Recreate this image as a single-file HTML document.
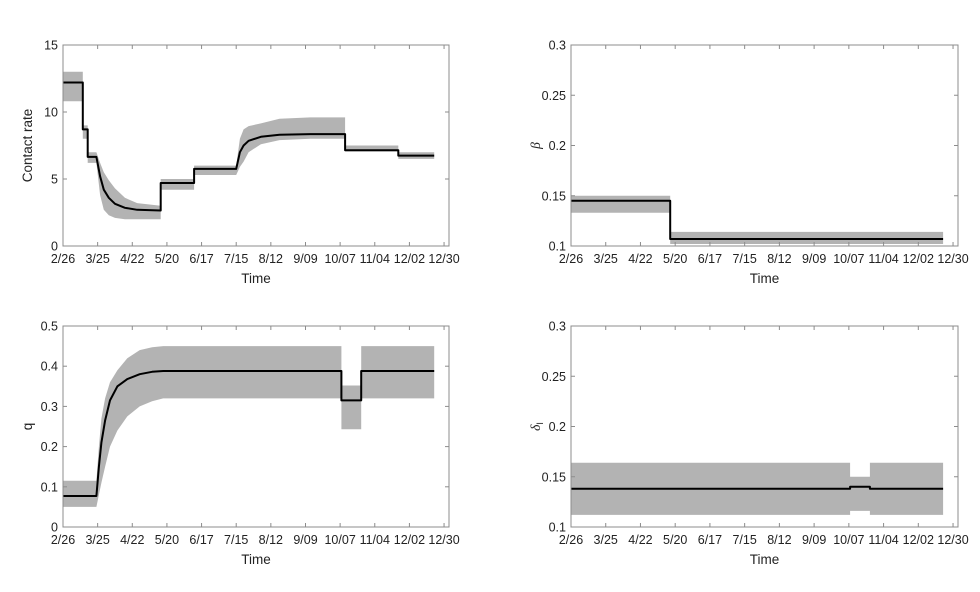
<!DOCTYPE html>
<html><head><meta charset="utf-8"><style>
body{margin:0;background:#fff;}
svg{display:block;font-family:"Liberation Sans",sans-serif;}
</style></head><body>
<svg id="fig" width="980" height="592" viewBox="0 0 980 592"></svg>
<script>
// x ticks (days since 2/26)
const tickDays=[0,28,56,84,112,140,168,196,224,252,280,308];
const tickLabels=["2/26","3/25","4/22","5/20","6/17","7/15","8/12","9/09","10/07","11/04","12/02","12/30"];
// Panel 1: contact rate
const crDays=[0,16,16,20,20,27,30,33,37,42,50,60,79,79,106,106,140,143,146,150,160,175,200,228,228,271,271,300];
const crMean=[12.2,12.2,8.7,8.7,6.65,6.65,5.2,4.2,3.6,3.15,2.85,2.7,2.65,4.7,4.7,5.75,5.75,7.0,7.5,7.85,8.15,8.3,8.35,8.35,7.15,7.15,6.75,6.75];
const crLo=[10.8,10.8,8.0,8.0,6.2,6.2,3.8,2.7,2.3,2.1,2.0,2.0,2.0,4.2,4.2,5.3,5.3,5.9,6.3,7.0,7.6,7.9,8.0,8.0,7.05,7.05,6.5,6.5];
const crHi=[13.0,13.0,9.0,9.0,7.0,7.0,6.2,5.5,4.9,4.3,3.6,3.2,3.0,5.0,5.0,6.0,6.0,8.0,8.7,8.95,9.15,9.5,9.6,9.6,7.5,7.5,7.0,7.0];
// Panel 2: beta
const bDays=[0,80,80,300];
const bMean=[0.145,0.145,0.107,0.107];
const bLo=[0.133,0.133,0.102,0.102];
const bHi=[0.150,0.150,0.114,0.114];
// Panel 3: q
const qDays=[0,27,29,31,34,38,44,52,62,72,81,225,225,241,241,300];
const qMean=[0.077,0.077,0.15,0.21,0.265,0.315,0.35,0.368,0.38,0.386,0.388,0.388,0.315,0.315,0.388,0.388];
const qLo=[0.05,0.05,0.08,0.11,0.15,0.2,0.24,0.275,0.3,0.313,0.32,0.32,0.243,0.243,0.32,0.32];
const qHi=[0.115,0.115,0.2,0.27,0.32,0.36,0.39,0.42,0.44,0.447,0.45,0.45,0.352,0.352,0.45,0.45];
// Panel 4: delta_I
const dDays=[0,225,225,241,241,300];
const dMean=[0.138,0.138,0.14,0.14,0.138,0.138];
const dLo=[0.112,0.112,0.116,0.116,0.112,0.112];
const dHi=[0.164,0.164,0.150,0.150,0.164,0.164];

const NS="http://www.w3.org/2000/svg";
const svg=document.getElementById('fig');
function mk(tag,attrs,parent){const e=document.createElementNS(NS,tag);for(const k in attrs)e.setAttribute(k,attrs[k]);(parent||svg).appendChild(e);return e;}

function panel(name,x0,y0,x1,y1,ymin,ymax,yticks,ylabelFmt,days,mean,lo,hi,ylab){
  const g=mk('g',{});
  
  
  const X=d=>x0+(d/312)*(x1-x0);
  const Y=v=>y1-(v-ymin)/(ymax-ymin)*(y1-y0);
  let p='';
  for(let i=0;i<days.length;i++)p+=(i?'L':'M')+X(days[i]).toFixed(1)+','+Y(hi[i]).toFixed(1);
  for(let i=days.length-1;i>=0;i--)p+='L'+X(days[i]).toFixed(1)+','+Y(lo[i]).toFixed(1);
  const band=mk('path',{d:p+'Z',fill:'#b3b3b3',stroke:'none'},g);
  
  
  let m='';
  for(let i=0;i<days.length;i++)m+=(i?'L':'M')+X(days[i]).toFixed(1)+','+Y(mean[i]).toFixed(1);
  const line=mk('path',{d:m,fill:'none',stroke:'#000','stroke-width':2,'stroke-linejoin':'round'},g);
  
  
  const box=mk('rect',{x:x0,y:y0,width:x1-x0,height:y1-y0,fill:'none',stroke:'#8c8c8c','stroke-width':1},g);
  
  
  tickDays.forEach((d,i)=>{
    const x=X(d);
    mk('line',{x1:x,x2:x,y1:y1,y2:y1-4,stroke:'#8c8c8c'},g);
    mk('line',{x1:x,x2:x,y1:y0,y2:y0+4,stroke:'#8c8c8c'},g);
    const t=mk('text',{x:x,y:y1+17,'text-anchor':'middle','font-size':12.5,fill:'#222'},g);
    t.textContent=tickLabels[i];
    
    
  });
  yticks.forEach(v=>{
    const y=Y(v);
    mk('line',{x1:x0,x2:x0+4,y1:y,y2:y,stroke:'#8c8c8c'},g);
    mk('line',{x1:x1,x2:x1-4,y1:y,y2:y,stroke:'#8c8c8c'},g);
    const t=mk('text',{x:x0-5,y:y+4.5,'text-anchor':'end','font-size':12.5,fill:'#222'},g);
    t.textContent=ylabelFmt(v);
    
    
  });
  const xt=mk('text',{x:(x0+x1)/2,y:y1+37,'text-anchor':'middle','font-size':13.5,fill:'#222'},g);
  xt.textContent='Time';
  
  
  const yt=mk('text',{x:0,y:0,'text-anchor':'middle','font-size':13.5,fill:'#222',transform:`translate(${x0-31},${(y0+y1)/2}) rotate(-90)`},g);
  yt.innerHTML=ylab;
  
  
}
const f0=v=>String(v);
panel('contact-rate-panel',63,45,449,246,0,15,[0,5,10,15],f0,crDays,crMean,crLo,crHi,'Contact rate');
panel('beta-panel',571,45,958,246,0.1,0.3,[0.1,0.15,0.2,0.25,0.3],f0,bDays,bMean,bLo,bHi,'<tspan font-family="Liberation Serif" font-style="italic">β</tspan>');
panel('q-panel',63,326,449,527,0,0.5,[0,0.1,0.2,0.3,0.4,0.5],f0,qDays,qMean,qLo,qHi,'q');
panel('delta-panel',571,326,958,527,0.1,0.3,[0.1,0.15,0.2,0.25,0.3],f0,dDays,dMean,dLo,dHi,'<tspan font-family="Liberation Serif" font-style="italic">δ</tspan><tspan font-size="9" dy="3">I</tspan>');
</script>
</body></html>
